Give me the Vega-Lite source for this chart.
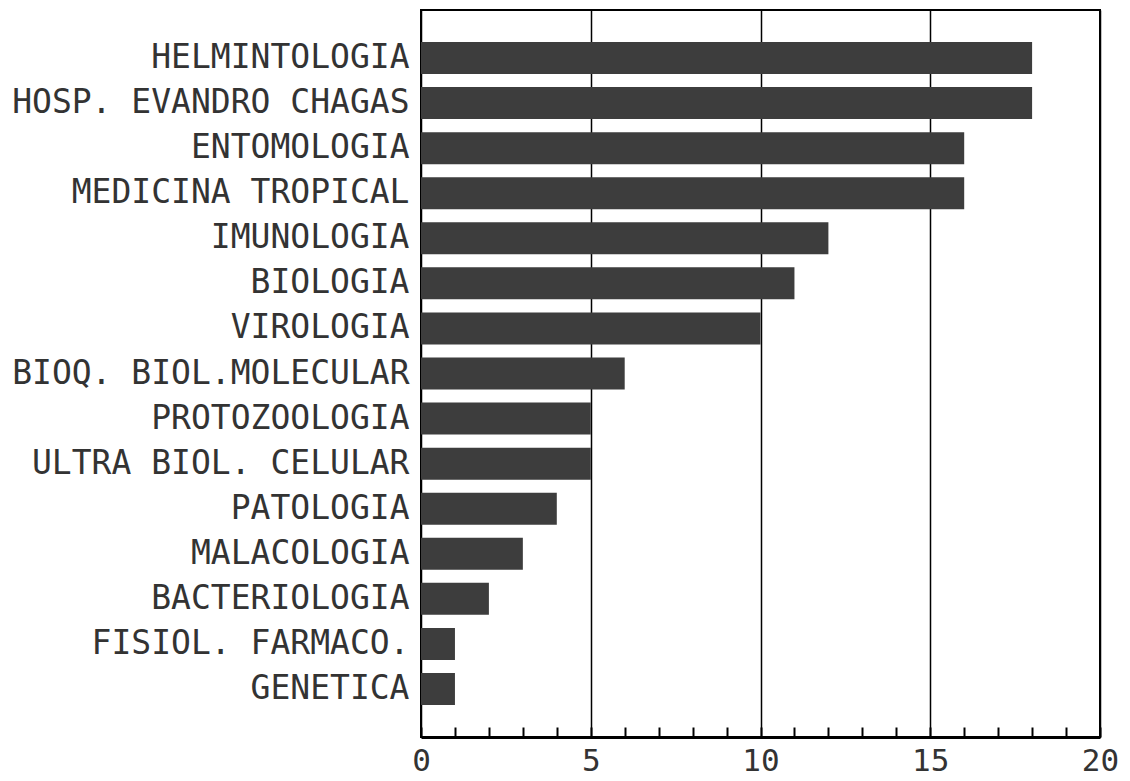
{
  "$schema": "https://vega.github.io/schema/vega-lite/v6.json",
  "width": 679,
  "height": 727,
  "autosize": "none",
  "padding": {"left": 421, "top": 10, "right": 30, "bottom": 44},
  "background": "white",
  "config": {"view": {"stroke": "black", "strokeWidth": 2}, "font": "DejaVu Sans Mono"},
  "data": {"values": [
    {"dept": "HELMINTOLOGIA", "n": 18},
    {"dept": "HOSP. EVANDRO CHAGAS", "n": 18},
    {"dept": "ENTOMOLOGIA", "n": 16},
    {"dept": "MEDICINA TROPICAL", "n": 16},
    {"dept": "IMUNOLOGIA", "n": 12},
    {"dept": "BIOLOGIA", "n": 11},
    {"dept": "VIROLOGIA", "n": 10},
    {"dept": "BIOQ. BIOL.MOLECULAR", "n": 6},
    {"dept": "PROTOZOOLOGIA", "n": 5},
    {"dept": "ULTRA BIOL. CELULAR", "n": 5},
    {"dept": "PATOLOGIA", "n": 4},
    {"dept": "MALACOLOGIA", "n": 3},
    {"dept": "BACTERIOLOGIA", "n": 2},
    {"dept": "FISIOL. FARMACO.", "n": 1},
    {"dept": "GENETICA", "n": 1}
  ]},
  "mark": {"type": "bar", "color": "#3d3d3d"},
  "encoding": {
    "y": {
      "field": "dept", "type": "nominal", "sort": null,
      "scale": {"paddingInner": 0.29, "paddingOuter": 0.71},
      "axis": {"title": null, "ticks": false, "domain": false, "labelFontSize": 33, "labelPadding": 12, "labelColor": "#333", "labelLimit": 0, "labelFont": "DejaVu Sans Mono"}
    },
    "x": {
      "field": "n", "type": "quantitative",
      "scale": {"domain": [0, 20], "nice": false},
      "axis": {
        "title": null,
        "values": [0,1,2,3,4,5,6,7,8,9,10,11,12,13,14,15,16,17,18,19,20],
        "tickSize": -10, "tickColor": "black", "tickWidth": 2,
        "domainColor": "black", "domainWidth": 3,
        "grid": true, "gridColor": "black", "gridWidth": 1.5,
        "gridOpacity": {"condition": {"test": "datum.value % 5 === 0", "value": 1}, "value": 0},
        "labelExpr": "datum.value % 5 === 0 ? datum.label : ''",
        "labelFontSize": 31, "labelColor": "#333", "labelFont": "DejaVu Sans Mono",
        "labelPadding": 19, "labelFlush": false, "labelOverlap": false
      }
    }
  }
}
